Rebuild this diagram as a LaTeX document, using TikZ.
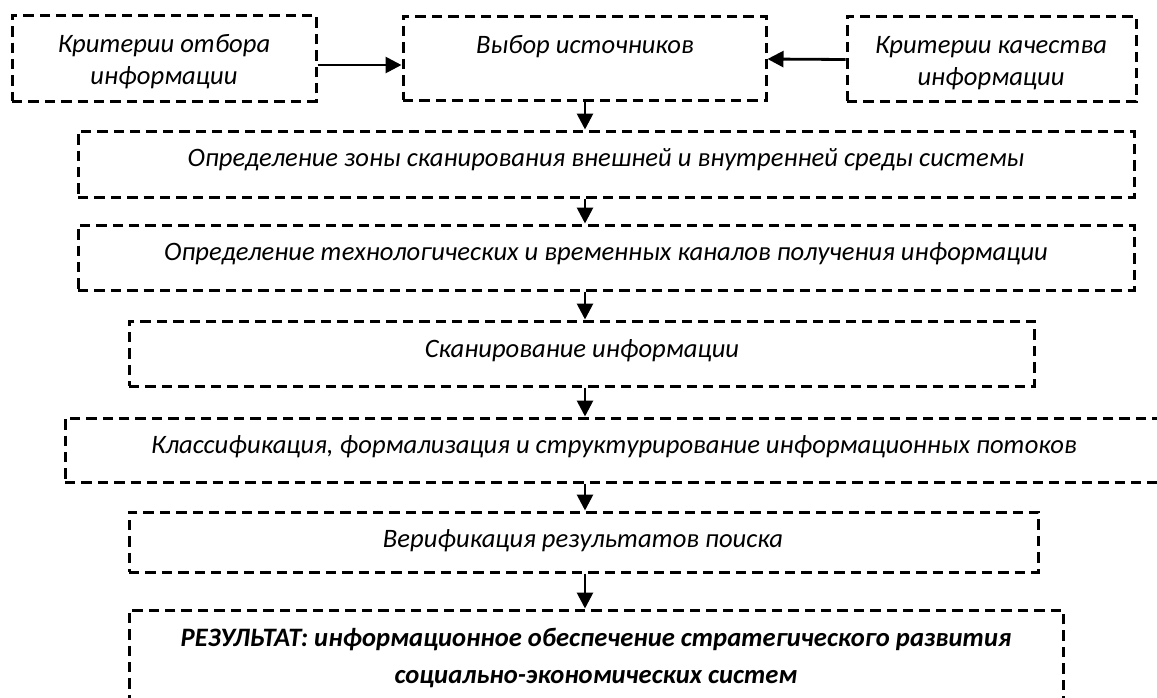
\documentclass[tikz,border=0pt]{standalone}
\usepackage{fontspec}
\setmainfont{Carlito}
\usetikzlibrary{fit,arrows.meta}
\begin{document}
\begin{tikzpicture}[x=0.5pt,y=-0.5pt,
  box/.style={draw=black, line width=1.5pt, dash pattern=on 5.2pt off 3pt, inner sep=0pt},
  txt/.style={font=\fontsize{13.3}{16}\selectfont\itshape, align=center, inner sep=0pt},
  txtb/.style={font=\fontsize{13.3}{18.5}\selectfont\bfseries\itshape, align=center, inner sep=0pt},
  arr/.style={draw=black, line width=1.4pt, -{Triangle[length=8pt,width=8pt]}}]
\useasboundingbox (0,0) rectangle (1157,697);
\clip (0,0) rectangle (1157,697);
% boxes
\node[box, fit={(12,15) (316,101)}] (b1) {};
\node[box, fit={(403,16) (766,100)}] (b2) {};
\node[box, fit={(847,16) (1136,101)}] (b3) {};
\node[box, fit={(78,131) (1134,197)}] (b4) {};
\node[box, fit={(78,225) (1134,290)}] (b5) {};
\node[box, fit={(129,321) (1034,386)}] (b6) {};
\node[box, fit={(65,418) (1164,482)}] (b7) {};
\node[box, fit={(129,512) (1038,572)}] (b8) {};
\node[box, fit={(129,610) (1063,740)}] (b9) {};
% texts
\node[txt] (t1) at (164,62) {Критерии отбора\\информации};
\node[txt] (t2) at (585,47) {Выбор источников};
\node[txt] (t3) at (991,63) {Критерии качества\\информации};
\node[txt] (t4) at (606,160) {Определение зоны сканирования внешней и внутренней среды системы};
\node[txt] (t5) at (606,254) {Определение технологических и временных каналов получения информации};
\node[txt] (t6) at (582,351) {Сканирование информации};
\node[txt] (t7) at (614,447) {Классификация, формализация и структурирование информационных потоков};
\node[txt] (t8) at (583,541) {Верификация результатов поиска};
\node[txtb] (t9) at (596,658) {РЕЗУЛЬТАТ: информационное обеспечение стратегического развития\\социально-экономических систем};
% connectors
\coordinate (ax) at (585,0);
\draw[arr] ([yshift=-3.5pt]b1.east) -- ([yshift=-3.5pt]b2.west);
\draw[arr] ([yshift=-0.5pt]b3.west) -- ([yshift=-0.5pt]b2.east);
\draw[arr] (b2.south -| ax) -- (b4.north -| ax);
\draw[arr] (b4.south -| ax) -- (b5.north -| ax);
\draw[arr] (b5.south -| ax) -- (b6.north -| ax);
\draw[arr] (b6.south -| ax) -- (b7.north -| ax);
\draw[arr] (b7.south -| ax) -- (b8.north -| ax);
\draw[arr] (b8.south -| ax) -- (b9.north -| ax);
\end{tikzpicture}
\end{document}
